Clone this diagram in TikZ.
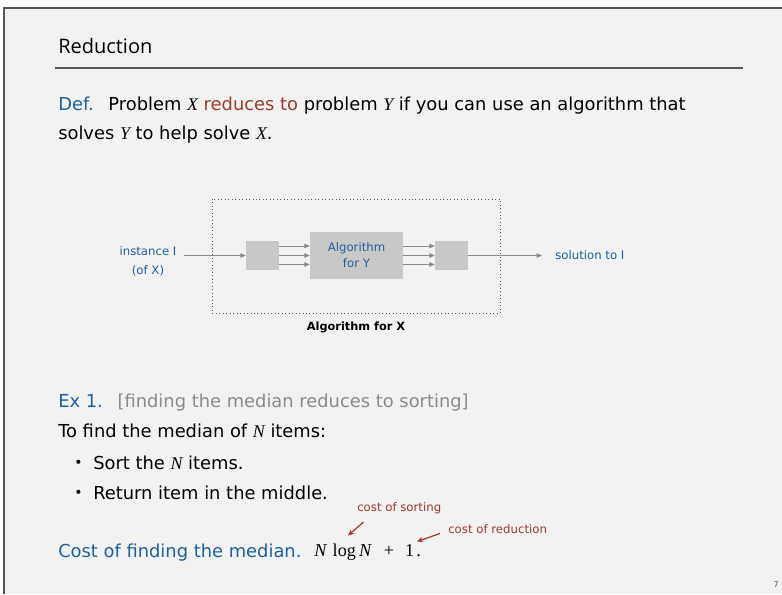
\documentclass[tikz,border=0pt]{standalone}
\usepackage{fontspec}
\setmainfont{DejaVu Sans}
\newfontfamily\titlefont{Open Sans}
\newfontfamily\mathserif{Liberation Serif}
\usetikzlibrary{arrows.meta,calc}

\definecolor{slidebg}{HTML}{F2F2F2}
\definecolor{framegray}{HTML}{555555}
\definecolor{defblue}{HTML}{1F5F9E}
\definecolor{noteRed}{HTML}{9B3A2F}
\definecolor{boxgray}{HTML}{C8C8C8}
\definecolor{arrowgray}{HTML}{8A8A8A}
\definecolor{remarkgray}{HTML}{8A8A8A}

\newcommand{\mvar}[1]{{\mathserif\itshape #1}}
\newcommand{\mrm}[1]{{\mathserif #1}}

\begin{document}
\begin{tikzpicture}[x=0.75pt,y=-0.75pt,
  body/.style={anchor=base west,inner sep=0pt,font=\fontsize{13.4pt}{16pt}\selectfont},
  bulletmark/.style={anchor=base west,inner sep=0pt,font=\fontsize{10.5pt}{12pt}\selectfont},
  small/.style={inner sep=0pt,font=\fontsize{8.8pt}{11pt}\selectfont},
  graybox/.style={fill=boxgray,draw=none,inner sep=0pt},
  flow/.style={draw=arrowgray,line width=0.6pt,-{Triangle[length=4pt,width=3.4pt]}},
  note/.style={draw=noteRed,line width=0.9pt,-{Stealth[length=4.5pt,width=4pt]}},
]
\useasboundingbox (0,0) rectangle (782,594);
% slide background with its top and left frame
\fill[white] (0,0) rectangle (782,594);
\fill[slidebg] (4,7.5) rectangle (782,594);
\draw[framegray,line width=1.5pt] (4,594) -- (4,7.5) -- (782,7.5);

% title and rule
\node[anchor=base west,inner sep=0pt,font=\titlefont\fontsize{15pt}{18pt}\selectfont] (title) at (58,53) {Reduction};
\draw[framegray,line width=0.8pt] (55,68) -- (743,68);

% definition
\node[body] (def1) at (58,110) {\textcolor{defblue}{Def.}\hspace{0.4em} Problem \mvar{X} \textcolor{noteRed}{reduces to} problem \mvar{Y} if you can use an algorithm that};
\node[body] (def2) at (58,139) {solves \mvar{Y} to help solve \mvar{X}.};

% reduction diagram
\draw[framegray,dotted,line width=0.6pt] (212,199) rectangle (500,313);
\node[small,font=\fontsize{8.5pt}{10pt}\selectfont\bfseries,anchor=base] (algX) at (356,330) {Algorithm for X};

\node[graybox,minimum width=24.75pt,minimum height=21.75pt] (lbox) at (262.5,255.5) {};
\node[graybox,minimum width=69.75pt,minimum height=35.25pt,align=center,text=defblue,
      font=\fontsize{8.8pt}{12pt}\selectfont] (alg) at (356.5,255.5) {Algorithm\\for Y};
\node[graybox,minimum width=24.75pt,minimum height=21.75pt] (rbox) at (451.5,255.5) {};

\node[small,align=center,text=defblue,font=\fontsize{8.8pt}{14pt}\selectfont] (inst) at (148,261) {instance I\\(of X)};
\node[small,anchor=base west,text=defblue] (sol) at (555,259) {solution to I};
\coordinate (inStart) at (184,255.5);
\coordinate (outEnd) at (542,255.5);

\draw[flow] (inStart) -- (lbox.west);
\foreach \dy in {-9.5,0,9} {
  \draw[flow] ($(lbox.east)+(0,\dy)$) -- ($(alg.west)+(0,\dy)$);
  \draw[flow] ($(alg.east)+(0,\dy)$) -- ($(rbox.west)+(0,\dy)$);
}
\draw[flow] (rbox.east) -- (outEnd);

% example
\node[body] (ex) at (58,407) {\textcolor{defblue}{Ex 1.}\hspace{0.4em} \textcolor{remarkgray}{[finding the median reduces to sorting]}};
\node[body] (find) at (58,437) {To find the median of \mvar{N} items:};
\node[bulletmark] (b1) at (74,467) {•};
\node[body] (s1) at (93,469) {Sort the \mvar{N} items.};
\node[bulletmark] (b2) at (74,497) {•};
\node[body] (s2) at (93,499) {Return item in the middle.};

\node[body] (cost) at (58,557) {\textcolor{defblue}{Cost of finding the median.}};
\node[body,font=\fontsize{13.6pt}{16pt}\selectfont] (formula) at (314,556)
  {\mvar{N}\hspace{0.35em}\mrm{log}\hspace{0.18em}\mvar{N}\hspace{0.7em}\mrm{+}\hspace{0.6em}\mrm{1}\hspace{0.12em}\mrm{.}};

\node[small,anchor=base west,text=noteRed] (sortnote) at (357,511.5) {cost of sorting};
\node[small,anchor=base west,text=noteRed] (rednote) at (448,533) {cost of reduction};
\coordinate (sortTip) at (348,535.5);
\coordinate (redTip) at (417,541.5);
\draw[note] (363.5,522) -- (sortTip);
\draw[note] (440,533.5) -- (redTip);

% page number
\node[anchor=base east,inner sep=0pt,font=\fontsize{6pt}{7pt}\selectfont,text=framegray] (page) at (779,587) {7};
\end{tikzpicture}
\end{document}
